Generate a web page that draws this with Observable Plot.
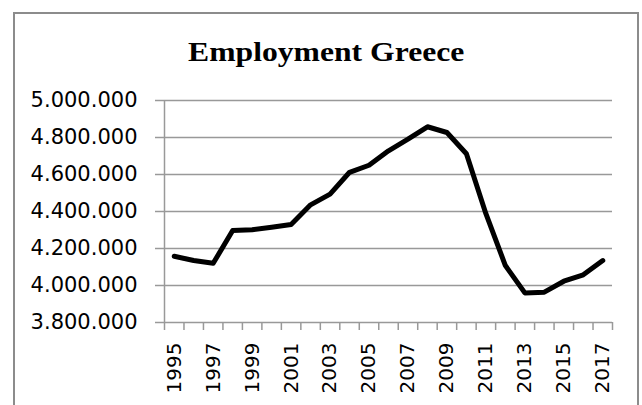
<!DOCTYPE html>
<html>
<head>
<meta charset="utf-8">
<script src="https://cdn.jsdelivr.net/npm/d3@7"></script>
<script src="https://cdn.jsdelivr.net/npm/@observablehq/plot@0.6"></script>
<style>
  html, body { margin: 0; padding: 0; background: #fff; }
  #wrap { position: relative; width: 642px; height: 405px; overflow: hidden; background: #fff; }
  #frame { position: absolute; left: 13px; top: 12px; width: 626px; height: 430px; box-sizing: border-box; border: 2px solid #8c8c8c; }
  #title { position: absolute; left: 6px; top: 38px; width: 642px; text-align: center; font-family: "Liberation Serif", "Times New Roman", serif; font-weight: bold; font-size: 28px; line-height: 28px; color: #000; transform: scaleX(1.13); transform-origin: 327px 0; }
  #chart { position: absolute; left: 0; top: 0; }
</style>
</head>
<body>
<div id="wrap">
  <div id="frame"></div>
  <div id="title">Employment Greece</div>
  <div id="chart"></div>
</div>
<script>
const years = [1995,1996,1997,1998,1999,2000,2001,2002,2003,2004,2005,2006,2007,2008,2009,2010,2011,2012,2013,2014,2015,2016,2017];
const employment = [4158000,4135000,4120000,4297000,4301000,4315000,4330000,4436000,4494000,4612000,4650000,4728000,4791000,4858000,4827000,4712000,4388000,4108000,3960000,3964000,4023000,4058000,4135000];
const yTicks = [3800000,4000000,4200000,4400000,4600000,4800000,5000000];
const xLabelYears = [1995,1997,1999,2001,2003,2005,2007,2009,2011,2013,2015,2017];

const data = years.map((y, i) => ({year: y, value: employment[i]}));
const boundaries = [...years.map(y => y - 0.5), years[years.length - 1] + 0.5];
const fmt = d3.formatLocale({decimal: ",", thousands: ".", grouping: [3], currency: ["", ""]}).format(",d");
const grid = "#999999";

const chart = Plot.plot({
  width: 642,
  height: 405,
  marginTop: 100,
  marginBottom: 83,
  marginLeft: 164,
  marginRight: 30,
  style: {background: "transparent", fontFamily: "DejaVu Sans, sans-serif"},
  x: {type: "linear", domain: [boundaries[0], boundaries[boundaries.length - 1]]},
  y: {domain: [yTicks[0], yTicks[yTicks.length - 1]]},
  marks: [
    Plot.gridY(yTicks, {stroke: grid, strokeOpacity: 1, strokeWidth: 1.5}),
    Plot.ruleX([boundaries[0]], {stroke: grid, strokeWidth: 1.5}),
    Plot.axisY(yTicks, {tickSize: 9, tickPadding: 18, tickFormat: fmt, fontSize: 21, stroke: grid, strokeWidth: 1.5, fill: "#000", label: null}),
    Plot.axisX(boundaries, {tickSize: 8, tickFormat: () => "", stroke: grid, strokeWidth: 1.5, label: null}),
    Plot.axisX(xLabelYears, {tickSize: 0, tickPadding: 20, tickRotate: -90, tickFormat: d => String(d), fontSize: 20, fill: "#000", label: null}),
    Plot.line(data, {x: "year", y: "value", stroke: "#000", strokeWidth: 5, strokeLinejoin: "round", strokeLinecap: "round"})
  ]
});
document.getElementById("chart").appendChild(chart);
</script>
</body>
</html>
